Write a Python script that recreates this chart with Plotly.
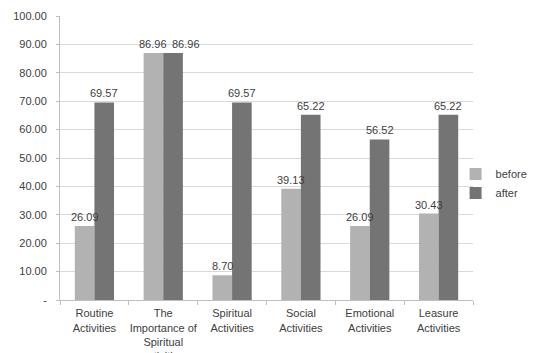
import plotly.graph_objects as go

categories = [
    "Routine<br>Activities",
    "The<br>Importance of<br>Spiritual<br>activities",
    "Spiritual<br>Activities",
    "Social<br>Activities",
    "Emotional<br>Activities",
    "Leasure<br>Activities",
]
before = [26.09, 86.96, 8.70, 39.13, 26.09, 30.43]
after = [69.57, 86.96, 69.57, 65.22, 56.52, 65.22]
y_ticks = [0, 10, 20, 30, 40, 50, 60, 70, 80, 90, 100]
y_tick_labels = ["-"] + [f"{v:.2f}" for v in y_ticks[1:]]

text_font = dict(family="Liberation Sans, Arial, sans-serif", size=11, color="#404040")

W, H = 536, 353
# plot area in pixels (left, right, top, bottom)
PL, PR, PT, PB = 60, 473, 16, 300
bargap = 0.43

fig = go.Figure()
fig.add_trace(go.Bar(name="before", x=categories, y=before,
                     marker=dict(color="#b2b2b2", line=dict(width=0))))
fig.add_trace(go.Bar(name="after", x=categories, y=after,
                     marker=dict(color="#747474", line=dict(width=0))))

# value labels above each bar, shifted onto the bar centres of each group;
# when both labels of a group would collide, the second one is nudged right
bar_px = (PR - PL) / len(categories) * (1 - bargap) / 2
for cat, b, a in zip(categories, before, after):
    fig.add_annotation(x=cat, y=b, text=f"{b:.2f}", showarrow=False,
                       xshift=-bar_px / 2, yanchor="bottom", yshift=1,
                       font=text_font)
    extra = 13 if abs(a - b) < 5 else 0
    fig.add_annotation(x=cat, y=a, text=f"{a:.2f}", showarrow=False,
                       xshift=bar_px / 2 + extra, yanchor="bottom", yshift=1,
                       font=text_font)

fig.update_layout(
    width=W, height=H,
    margin=dict(l=0, r=0, t=0, b=0, pad=0),
    paper_bgcolor="white", plot_bgcolor="white",
    barmode="group", bargap=bargap, bargroupgap=0,
    font=text_font,
    showlegend=True,
    legend=dict(x=0.85, y=1 - 183.5 / H, xanchor="left", yanchor="middle",
                font=dict(size=11, color="#404040"),
                itemwidth=30, tracegroupgap=0, bgcolor="rgba(0,0,0,0)"),
)
fig.update_xaxes(
    domain=[PL / W, PR / W], automargin=False,
    showline=True, linecolor="#bfbfbf", linewidth=1,
    ticks="outside", tickson="boundaries", ticklen=4, tickcolor="#bfbfbf",
    tickangle=0, tickfont=text_font, showgrid=False, ticklabelstandoff=3,
)
fig.update_yaxes(
    domain=[1 - PB / H, 1 - PT / H], automargin=False,
    range=[0, 100], tickvals=y_ticks, ticktext=y_tick_labels,
    showline=True, linecolor="#bfbfbf", linewidth=1,
    ticks="outside", ticklen=3, tickcolor="#bfbfbf",
    showgrid=True, gridcolor="#d9d9d9", gridwidth=1,
    tickfont=text_font, zeroline=False, ticklabelstandoff=7,
)

fig.write_html("out.html")
